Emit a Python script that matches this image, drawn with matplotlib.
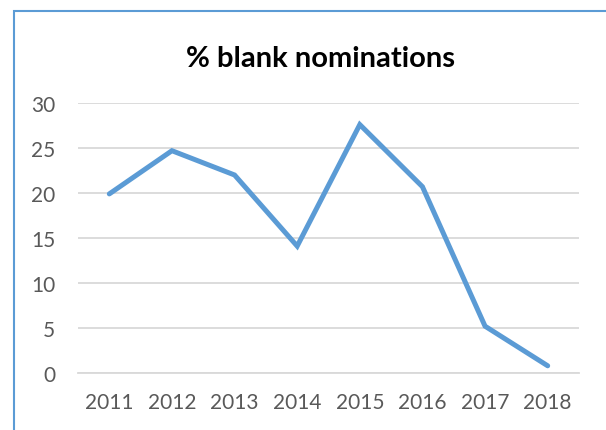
import matplotlib
matplotlib.use('Agg')
import matplotlib.pyplot as plt
from matplotlib.patches import Rectangle

# data
years = ['2011', '2012', '2013', '2014', '2015', '2016', '2017', '2018']
blank_pct = [19.9, 24.7, 22.0, 14.1, 27.6, 20.7, 5.2, 0.8]
yticks = [0, 5, 10, 15, 20, 25, 30]

plt.rcParams['font.family'] = ['Lato', 'DejaVu Sans']

fig = plt.figure(figsize=(6.06, 4.31), dpi=100)
ax = fig.add_axes([78/606, 1 - 374/431, (579 - 78)/606, (374 - 104)/431])

# chart border (cropped at the right and bottom)
fig.patches.append(Rectangle((14/606, -0.1), 1.2, 1 - 12/431 + 0.1,
                             transform=fig.transFigure, fill=False,
                             edgecolor='#5B9BD5', linewidth=1.5))

x = list(range(len(years)))
ax.plot(x, blank_pct, color='#5B9BD5', linewidth=3.6, solid_capstyle='round',
        solid_joinstyle='miter', zorder=3)

ax.set_xlim(-0.5, len(years) - 0.5)
ax.set_ylim(0, 30)
ax.set_yticks(yticks)
ax.set_xticks(x)
ax.set_xticklabels(years)
ax.yaxis.grid(True, color='#D9D9D9', linewidth=1.3)
ax.set_axisbelow(True)
for s in ax.spines.values():
    s.set_visible(False)
ax.spines['bottom'].set_visible(True)
ax.spines['bottom'].set_color('#D9D9D9')
ax.spines['bottom'].set_linewidth(1.3)
ax.tick_params(length=0, labelsize=15, labelcolor='#595959')
ax.tick_params(axis='y', pad=16.5)
ax.tick_params(axis='x', pad=14)

fig.text(321/606, 1 - 67/431, '% blank nominations', ha='center', va='baseline',
         fontsize=21, fontweight='bold', color='black')

fig.savefig('out.png', dpi=100)
